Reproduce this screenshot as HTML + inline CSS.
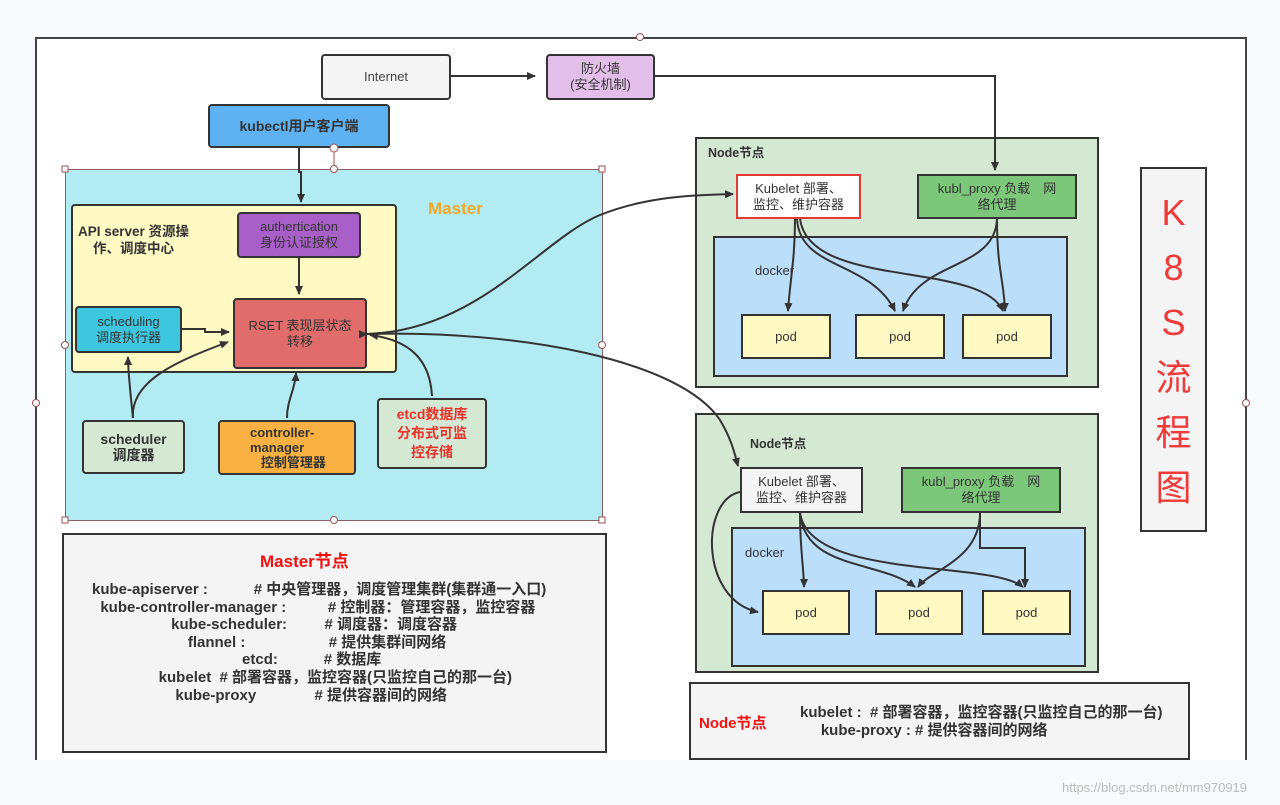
<!DOCTYPE html>
<html><head><meta charset="utf-8"><style>
body{margin:0;width:1280px;height:805px;background:#f8f9fc;position:relative;overflow:hidden;font-family:"Liberation Sans","Noto Sans CJK SC",sans-serif;color:#333}
.b{position:absolute;box-sizing:border-box;border:2px solid #333;border-radius:4px;display:flex;align-items:center;justify-content:center;text-align:center;font-size:13px;line-height:16px}
.bold{font-weight:bold}
svg{position:absolute;left:0;top:0}
.t{position:absolute;font-size:14px;font-weight:bold;white-space:pre;color:#333}
</style></head><body>
<div style="position:absolute;left:35px;top:37px;width:1212px;height:730px;background:#fff;border:2px solid #444;border-bottom:none;box-sizing:border-box"></div>
<div style="position:absolute;left:0;top:760px;width:1280px;height:45px;background:#f8f9fc"></div>

<div class="b" style="left:321px;top:54px;width:130px;height:46px;background:#f4f4f4;color:#444">Internet</div>
<div class="b" style="left:546px;top:54px;width:109px;height:46px;background:#e1bfe8">防火墙<br>(安全机制)</div>
<div class="b bold" style="left:208px;top:104px;width:182px;height:44px;background:#5fb2f1;font-size:14px">kubectl用户客户端</div>

<div style="position:absolute;left:65px;top:169px;width:538px;height:352px;background:#b2ebf2;border:1px solid #8a6060;box-sizing:border-box"></div>
<div class="t" style="left:428px;top:199px;color:#f5a623;font-size:17px">Master</div>
<div class="b" style="left:71px;top:204px;width:326px;height:169px;background:#fff9c4;align-items:flex-start;justify-content:flex-start"></div>
<div class="t" style="left:78px;top:223px;font-size:13.5px;line-height:17px">API server 资源操
    作、调度中心</div>
<div class="b" style="left:237px;top:212px;width:124px;height:46px;background:#a85fc8">authertication<br>身份认证授权</div>
<div class="b" style="left:233px;top:298px;width:134px;height:71px;background:#e06c6c">RSET 表现层状态<br>转移</div>
<div class="b" style="left:75px;top:306px;width:107px;height:47px;background:#3ec6df">scheduling<br>调度执行器</div>
<div class="b bold" style="left:82px;top:420px;width:103px;height:54px;background:#d5e8d4;font-size:14px">scheduler<br>调度器</div>
<div class="b bold" style="left:218px;top:420px;width:138px;height:55px;background:#f8b142;font-size:13px;line-height:15px;text-align:left;justify-content:flex-start;padding-left:30px">controller-<br>manager<br>&nbsp;&nbsp;&nbsp;控制管理器</div>
<div class="b bold" style="left:377px;top:398px;width:110px;height:71px;background:#d5e8d4;color:#e8322a;font-size:14px;line-height:19px">etcd数据库<br>分布式可监<br>控存储</div>

<div class="b" style="left:62px;top:533px;width:545px;height:220px;background:#f4f4f4;border-radius:0;display:block"></div>
<div class="t" style="left:260px;top:547px;color:#f01010;font-size:17px">Master节点</div>
<div class="t" style="left:92px;top:581px;line-height:17.6px;font-size:15px">kube-apiserver :           # 中央管理器，调度管理集群(集群通一入口)
  kube-controller-manager :          # 控制器：管理容器，监控容器
                   kube-scheduler:         # 调度器：调度容器
                       flannel :                    # 提供集群间网络
                                    etcd:           # 数据库
                kubelet  # 部署容器，监控容器(只监控自己的那一台)
                    kube-proxy              # 提供容器间的网络</div>

<div class="b" style="left:695px;top:137px;width:404px;height:251px;background:#d5e8d4;border-radius:0"></div>
<div class="t" style="left:708px;top:142px;font-size:12.5px">Node节点</div>
<div class="b" style="left:736px;top:174px;width:125px;height:45px;background:#fff;border-color:#e53935;border-radius:0">Kubelet 部署、<br>监控、维护容器</div>
<div class="b" style="left:917px;top:174px;width:160px;height:45px;background:#7dc77b;border-radius:0">kubl_proxy 负载　网<br>络代理</div>
<div class="b" style="left:713px;top:236px;width:355px;height:141px;background:#bbdefb;border-radius:0"></div>
<div class="t" style="left:755px;top:263px;font-weight:normal;font-size:13px">docker</div>
<div class="b" style="left:741px;top:314px;width:90px;height:45px;background:#fff9c4;border-radius:0">pod</div>
<div class="b" style="left:855px;top:314px;width:90px;height:45px;background:#fff9c4;border-radius:0">pod</div>
<div class="b" style="left:962px;top:314px;width:90px;height:45px;background:#fff9c4;border-radius:0">pod</div>

<div class="b" style="left:695px;top:413px;width:404px;height:260px;background:#d5e8d4;border-radius:0"></div>
<div class="t" style="left:750px;top:433px;font-size:12.5px">Node节点</div>
<div class="b" style="left:740px;top:467px;width:123px;height:46px;background:#f4f4f4;border-radius:0">Kubelet 部署、<br>监控、维护容器</div>
<div class="b" style="left:901px;top:467px;width:160px;height:46px;background:#7dc77b;border-radius:0">kubl_proxy 负载　网<br>络代理</div>
<div class="b" style="left:731px;top:527px;width:355px;height:140px;background:#bbdefb;border-radius:0"></div>
<div class="t" style="left:745px;top:545px;font-weight:normal;font-size:13px">docker</div>
<div class="b" style="left:762px;top:590px;width:88px;height:45px;background:#fff9c4;border-radius:0">pod</div>
<div class="b" style="left:875px;top:590px;width:88px;height:45px;background:#fff9c4;border-radius:0">pod</div>
<div class="b" style="left:982px;top:590px;width:89px;height:45px;background:#fff9c4;border-radius:0">pod</div>

<div class="b" style="left:1140px;top:167px;width:67px;height:365px;background:#f4f4f4;border-radius:0;color:#f03a3a;font-size:36px;line-height:55px;font-weight:normal">K<br>8<br>S<br>流<br>程<br>图</div>

<div class="b" style="left:689px;top:682px;width:501px;height:78px;background:#f4f4f4;border-radius:0;display:block"></div>
<div class="t" style="left:699px;top:712px;color:#f01010;font-size:15px">Node节点</div>
<div class="t" style="left:800px;top:704px;font-size:15px;line-height:18px">kubelet :  # 部署容器，监控容器(只监控自己的那一台)
     kube-proxy : # 提供容器间的网络</div>

<div style="position:absolute;left:1062px;top:780px;font-size:13px;color:#bbb">https://blog.csdn.net/mm970919</div>

<svg width="1280" height="805" viewBox="0 0 1280 805">
<defs><marker id="a" markerWidth="10" markerHeight="10" refX="8" refY="5" orient="auto" markerUnits="userSpaceOnUse"><path d="M0,1 L9,5 L0,9 Z" fill="#333"/></marker></defs>
<g fill="none" stroke="#333" stroke-width="2" marker-end="url(#a)">
<path d="M451,76 H535"/>
<path d="M655,76 H995 V170"/>
<path d="M299,148 V172 H301 V202"/>
<path d="M299,258 V294"/>
<path d="M182,329 H205 V332 H229"/>
<path d="M133,418 C130,390 128,370 128,357"/>
<path d="M133,418 C130,380 180,360 228,342"/>
<path d="M287,418 C287,400 295,390 296,373"/>
<path d="M432,396 C430,360 410,340 370,335"/>
<path d="M367,334 C480,330 540,240 600,215 C650,195 700,195 733,194" marker-start="url(#a)"/>
<path d="M367,334 C520,330 680,360 720,420 C732,440 735,455 738,466" marker-start="url(#a)"/>
<path d="M795,219 C795,260 790,280 788,311"/>
<path d="M797,219 C800,270 870,260 895,311"/>
<path d="M800,219 C810,290 980,260 1003,311"/>
<path d="M997,219 C995,270 920,260 903,311"/>
<path d="M997,219 C997,270 1004,280 1005,311"/>
<path d="M740,492 C700,500 700,600 758,612"/>
<path d="M800,513 C800,550 804,570 804,587"/>
<path d="M800,513 C805,570 880,560 915,587"/>
<path d="M800,513 C810,580 990,560 1023,587"/>
<path d="M980,513 C980,560 930,570 918,587"/>
<path d="M980,513 V548 H1025 V587"/>
</g>
<g fill="#fff" stroke="#a05050" stroke-width="1">
<rect x="62" y="166" width="6" height="6"/><rect x="599" y="166" width="6" height="6"/>
<rect x="62" y="517" width="6" height="6"/><rect x="599" y="517" width="6" height="6"/>
<circle cx="334" cy="148" r="4"/><circle cx="334" cy="169" r="3.5"/>
<circle cx="334" cy="520" r="3.5"/><circle cx="65" cy="345" r="3.5"/><circle cx="602" cy="345" r="3.5"/>
<circle cx="640" cy="37" r="3.5"/><circle cx="36" cy="403" r="3.5"/><circle cx="1246" cy="403" r="3.5"/>
<line x1="334" y1="152" x2="334" y2="166"/>
</g>
</svg>
</body></html>
